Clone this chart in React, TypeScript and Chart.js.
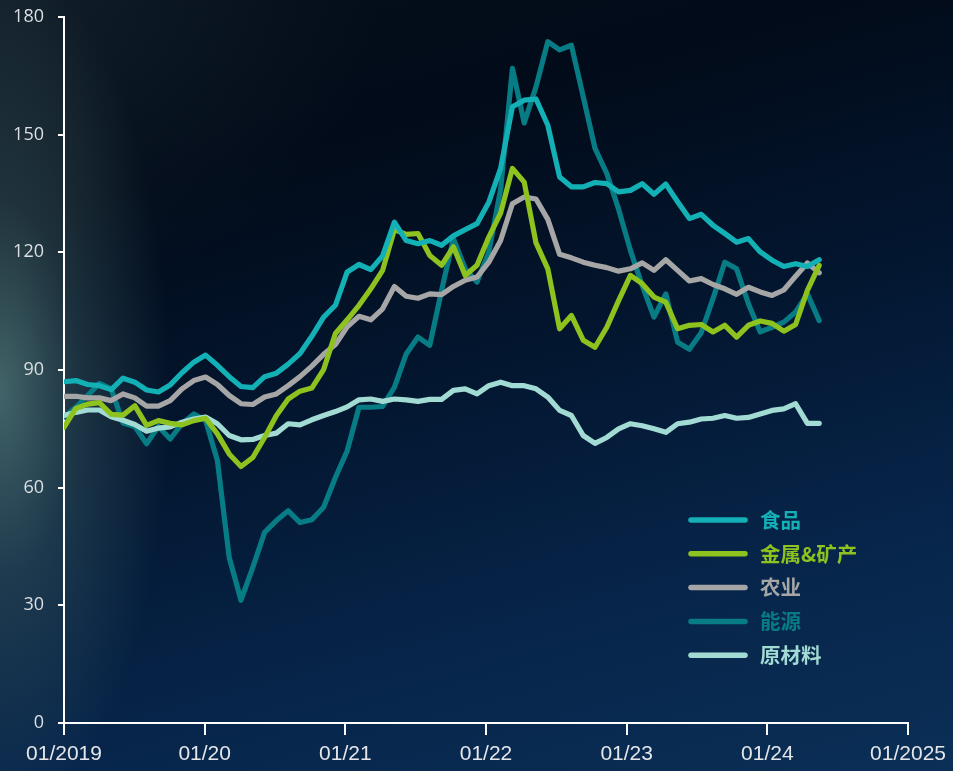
import { useEffect, useRef } from "react";
import { Chart, registerables } from "chart.js";

Chart.register(...registerables);

// ---- data ----
const YEAR_LABELS = ["01/2019", "01/20", "01/21", "01/22", "01/23", "01/24", "01/2025"];
const SERIES_NAMES = ["食品", "金属&矿产", "农业", "能源", "原材料"];

// monthly index values, starting 01/2019
const FOOD = [87.0, 87.3, 86.3, 86.0, 85.0, 87.9, 86.9, 84.9, 84.4, 86.2, 89.3, 92.0, 93.8, 91.2, 88.3, 85.8, 85.5, 88.3, 89.2, 91.5, 94.2, 98.6, 103.5, 106.5, 115.0, 116.9, 115.6, 119.1, 127.7, 123.0, 122.2, 123.0, 121.8, 124.2, 125.8, 127.3, 132.8, 141.4, 157.1, 158.8, 159.1, 152.4, 139.2, 136.7, 136.7, 137.8, 137.5, 135.4, 135.8, 137.5, 134.8, 137.4, 132.9, 128.6, 129.7, 126.9, 124.8, 122.6, 123.5, 120.1, 118.0, 116.4, 117.1, 116.4, 118.1];
const METALS = [75.4, 80.2, 81.3, 81.7, 78.7, 78.5, 80.9, 75.9, 77.1, 76.4, 76.0, 77.1, 77.7, 73.7, 68.6, 65.4, 67.7, 72.8, 78.4, 82.6, 84.6, 85.4, 90.1, 99.3, 102.8, 106.5, 110.7, 115.4, 125.8, 124.6, 124.8, 119.2, 116.7, 121.4, 114.1, 116.7, 123.9, 130.0, 141.4, 137.9, 122.4, 115.8, 100.5, 103.9, 97.6, 95.8, 100.9, 107.7, 114.1, 112.0, 108.6, 107.3, 100.5, 101.4, 101.6, 99.7, 101.4, 98.4, 101.4, 102.5, 101.9, 99.9, 101.6, 110.3, 116.7];
const AGRICULTURE = [83.3, 83.3, 82.9, 82.9, 82.2, 83.9, 82.9, 80.8, 80.8, 82.2, 85.2, 87.3, 88.2, 86.3, 83.5, 81.4, 81.2, 83.1, 83.9, 86.0, 88.3, 91.0, 94.0, 96.5, 101.0, 103.7, 102.8, 105.6, 111.3, 108.8, 108.3, 109.4, 109.2, 111.3, 112.9, 113.7, 117.5, 123.0, 132.4, 134.1, 133.6, 128.4, 119.5, 118.6, 117.5, 116.7, 116.1, 115.2, 115.8, 117.3, 115.4, 118.1, 115.4, 112.7, 113.3, 111.8, 110.7, 109.3, 111.1, 109.9, 109.0, 110.4, 113.9, 117.3, 114.8];
const ENERGY = [78.0, 80.5, 83.5, 86.6, 85.2, 76.5, 75.6, 71.2, 75.6, 72.4, 76.3, 78.8, 77.1, 66.9, 42.2, 31.3, 39.7, 48.6, 51.6, 54.1, 51.1, 51.8, 55.0, 62.6, 69.4, 80.5, 80.5, 80.7, 85.6, 94.1, 98.4, 96.3, 110.3, 123.5, 115.8, 112.4, 120.1, 136.0, 166.9, 153.0, 162.2, 173.7, 171.6, 172.8, 159.7, 146.5, 140.1, 131.0, 120.5, 111.5, 103.5, 109.4, 97.1, 95.3, 99.5, 108.2, 117.5, 115.8, 106.9, 99.7, 100.9, 102.2, 104.8, 109.4, 102.6];
const RAW_MATERIALS = [78.4, 79.2, 79.8, 79.8, 78.1, 77.2, 76.1, 74.4, 75.2, 75.5, 76.7, 77.5, 78.0, 76.3, 73.3, 72.2, 72.3, 73.3, 73.9, 76.3, 76.0, 77.3, 78.4, 79.4, 80.6, 82.4, 82.6, 82.0, 82.6, 82.4, 82.0, 82.5, 82.5, 84.8, 85.2, 83.9, 86.0, 86.9, 86.0, 86.0, 85.2, 83.1, 79.7, 78.4, 73.3, 71.3, 72.8, 75.0, 76.3, 75.8, 75.0, 74.1, 76.3, 76.7, 77.5, 77.7, 78.4, 77.7, 77.9, 78.8, 79.7, 80.1, 81.4, 76.4, 76.4];

const SERIES = [FOOD, METALS, AGRICULTURE, ENERGY, RAW_MATERIALS];
const COLORS = ["#13b0b6", "#8dc21f", "#a6a6a6", "#077c85", "#a2dbd4"];
// drawing weight: lower is drawn on top
const DRAW_ORDER = [0, 1, 2, 4, 3];
// spacing of points on the month axis (months from 01/2019)
const POINT_STEP = 1.0066;

const legendPlugin = {
  id: "insideLegend",
  afterDatasetsDraw(chart: any) {
    const ctx = chart.ctx as CanvasRenderingContext2D;
    ctx.save();
    SERIES_NAMES.forEach((name, k) => {
      const y = 520 + k * 33.8;
      ctx.strokeStyle = COLORS[k];
      ctx.lineWidth = 5.5;
      ctx.lineCap = "round";
      ctx.beginPath();
      ctx.moveTo(691, y);
      ctx.lineTo(745, y);
      ctx.stroke();
      ctx.fillStyle = COLORS[k];
      ctx.font = "bold 20.5px 'Noto Sans CJK SC'";
      ctx.textBaseline = "middle";
      ctx.textAlign = "left";
      ctx.fillText(name, 760, y);
    });
    ctx.restore();
  },
};

export default function App() {
  const ref = useRef<HTMLCanvasElement>(null);
  useEffect(() => {
    if (!ref.current) return;
    const chart = new Chart(ref.current, {
      type: "line",
      data: {
        datasets: SERIES.map((s, k) => ({
          label: SERIES_NAMES[k],
          data: s.map((v, i) => ({ x: i * POINT_STEP, y: v })),
          borderColor: COLORS[k],
          backgroundColor: COLORS[k],
          borderWidth: 5.2,
          pointRadius: 0,
          pointHoverRadius: 0,
          tension: 0,
          borderCapStyle: "round",
          borderJoinStyle: "round",
          order: DRAW_ORDER[k],
          fill: false,
        })),
      },
      options: {
        animation: false,
        responsive: true,
        maintainAspectRatio: false,
        layout: { padding: { top: 17, right: 44, left: 0, bottom: 0 } },
        plugins: { legend: { display: false }, tooltip: { enabled: false } },
        scales: {
          x: {
            type: "linear",
            min: 0,
            max: 72,
            afterFit: (s: any) => {
              s.height = 48;
              s.paddingTop = 0;
            },
            ticks: {
              stepSize: 12,
              autoSkip: false,
              maxRotation: 0,
              color: "#e4e6ea",
              padding: 7,
              font: { family: "'Liberation Sans'", size: 21 },
              callback: (v: any) => YEAR_LABELS[Math.round(Number(v) / 12)] ?? "",
            },
            grid: { drawOnChartArea: false, color: "#ffffff", lineWidth: 2, tickLength: 12 },
            border: { color: "#ffffff", width: 2 },
          },
          y: {
            min: 0,
            max: 180,
            afterFit: (s: any) => {
              s.width = 64;
              s.paddingTop = 0;
              s.paddingBottom = 0;
            },
            ticks: {
              stepSize: 30,
              color: "#dcdfe3",
              padding: 14,
              font: { family: "'Open Sans'", size: 18 },
            },
            grid: { drawOnChartArea: false, color: "#ffffff", lineWidth: 2, tickLength: 6 },
            border: { color: "#ffffff", width: 2 },
          },
        },
      },
      plugins: [legendPlugin],
    });
    return () => chart.destroy();
  }, []);

  return (
    <div
      style={{
        position: "absolute",
        left: 0,
        top: 0,
        width: 953,
        height: 771,
        background:
          "radial-gradient(ellipse 170px 430px at 0px 390px, rgba(105,150,145,0.62) 0%, rgba(105,150,145,0.25) 45%, rgba(105,150,145,0) 100%), radial-gradient(ellipse 380px 300px at 0px 0px, rgba(40,60,70,0.35) 0%, rgba(40,60,70,0) 100%), linear-gradient(165deg, #050e1a 0%, #020b19 22%, #031731 50%, #07254a 75%, #0b2f57 100%)",
      }}
    >
      <canvas ref={ref} width={953} height={771} />
    </div>
  );
}
